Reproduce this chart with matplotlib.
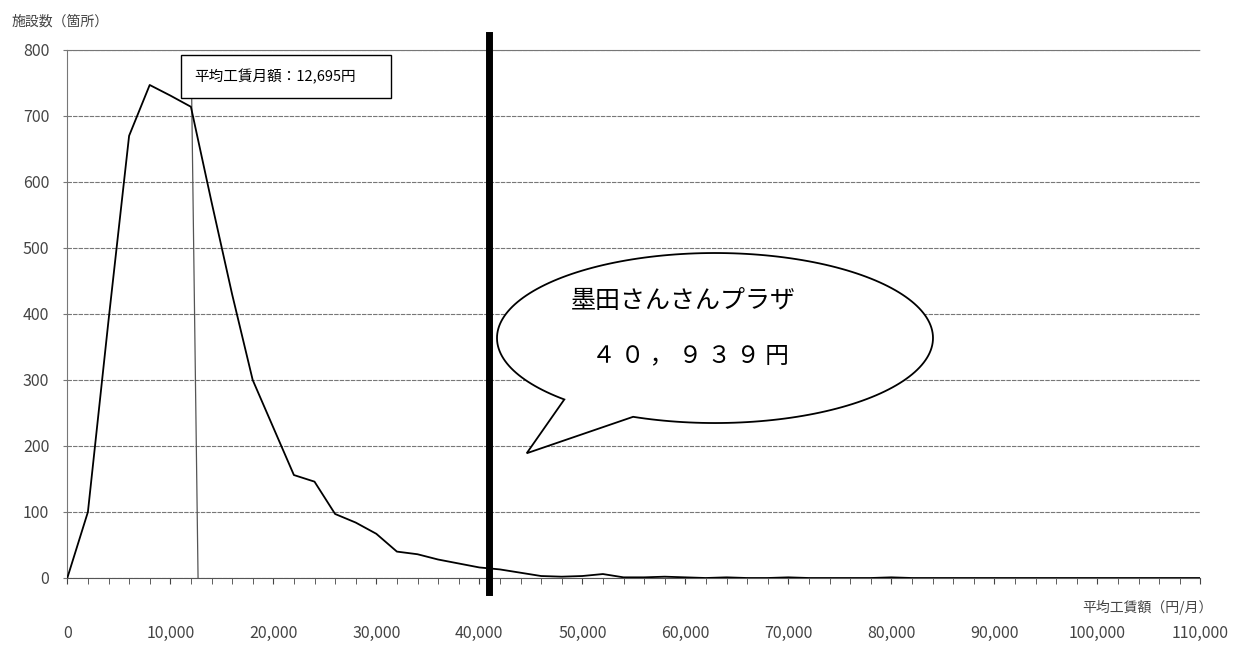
import numpy as np
import matplotlib
matplotlib.use("Agg")
import matplotlib.pyplot as plt
from matplotlib.patches import Rectangle, Polygon

plt.rcParams['font.family'] = ['Noto Sans CJK JP', 'DejaVu Sans']

# data: wage class (yen / month) and number of facilities
wage = list(range(0, 110001, 2000))
facilities = [0, 100, 390, 670, 747, 731, 714, 570, 430, 300,
              228, 156, 146, 97, 84, 67, 40, 36, 28, 22,
              16, 13, 8, 3, 2, 3, 6, 1, 1, 2,
              1, 0, 1, 0, 0, 1, 0, 0, 0, 0,
              1, 0, 0, 0, 0, 0, 0, 0, 0, 0,
              0, 0, 0, 0, 0, 0]
avg_wage = 12695
sumida_wage = 40939
x_ticks = list(range(0, 110001, 10000))
x_tick_labels = [f"{v:,}" for v in x_ticks]
y_ticks = list(range(0, 801, 100))

fig = plt.figure(figsize=(12.45, 6.62), dpi=100)
ax = fig.add_axes([67.3 / 1245, 84 / 662, (1200.3 - 67.3) / 1245, 528 / 662])

ax.plot(wage, facilities, color='black', lw=1.3, zorder=3)

ax.set_xlim(0, 110000)
ax.set_ylim(0, 800)
ax.set_yticks(y_ticks)
ax.set_xticks(x_ticks)
ax.set_xticklabels(x_tick_labels)
ax.set_xticks(wage, minor=True)
ax.yaxis.grid(True, color='#777777', lw=0.8, ls=(0, (4, 1)))
ax.set_axisbelow(True)
ax.tick_params(axis='x', which='both', length=4, color='#444444', direction='out')
ax.tick_params(axis='x', which='major', pad=30, labelsize=11.5, labelcolor='#444444')
ax.tick_params(axis='y', length=3, pad=10, labelsize=11.5, labelcolor='#444444', color='#777777')
ax.spines['right'].set_visible(False)
ax.spines['top'].set_color('#777777')
ax.spines['top'].set_linestyle((0, (4, 1)))
ax.spines['top'].set_linewidth(0.8)
ax.spines['left'].set_color('#777777')
ax.spines['left'].set_linestyle((0, (2, 1)))
ax.spines['bottom'].set_color('#555555')

# thick line at Sumida
ax.plot([sumida_wage, sumida_wage], [-21, 823], color='black', lw=5, clip_on=False, zorder=4)

# average wage callout
ax.add_patch(Rectangle((11000, 727), 20460, 65, facecolor='white', edgecolor='black', lw=1, zorder=5))
ax.text(12300, 759.5, "平均工賃月額：12,695円", fontsize=10.5, va='center', ha='left', zorder=6)
ax.plot([12078, avg_wage], [727, 0], color='#555555', lw=0.9, zorder=2)

# speech bubble
cx, cy, a, b = 62883, 363.6, 21165, 128.8
tail_start = (48485, 272)
tail_tip = (44602, 189)
tail_end = (55117, 247)
t0 = np.arctan2((tail_end[1] - cy) / b, (tail_end[0] - cx) / a)
t1 = np.arctan2((tail_start[1] - cy) / b, (tail_start[0] - cx) / a) + 2 * np.pi
t = np.linspace(t0, t1, 200)
pts = np.column_stack([cx + a * np.cos(t), cy + b * np.sin(t)])
pts = np.vstack([pts, tail_tip])
ax.add_patch(Polygon(pts, closed=True, facecolor='white', edgecolor='black', lw=1.3, zorder=5))
ax.text(59800, 420, "墨田さんさんプラザ", fontsize=18, ha='center', va='center', zorder=6)
ax.text(60500, 337, "４ ０ ， ９ ３ ９ 円", fontsize=17, ha='center', va='center', zorder=6)

fig.text(12 / 1245, 1 - 22 / 662, "施設数（箇所）", fontsize=10, ha='left', va='center', color='#444444')
fig.text(1213 / 1245, 1 - 607 / 662, "平均工賃額（円/月）", fontsize=10, ha='right', va='center', color='#444444')

fig.savefig("out.png", dpi=100)
